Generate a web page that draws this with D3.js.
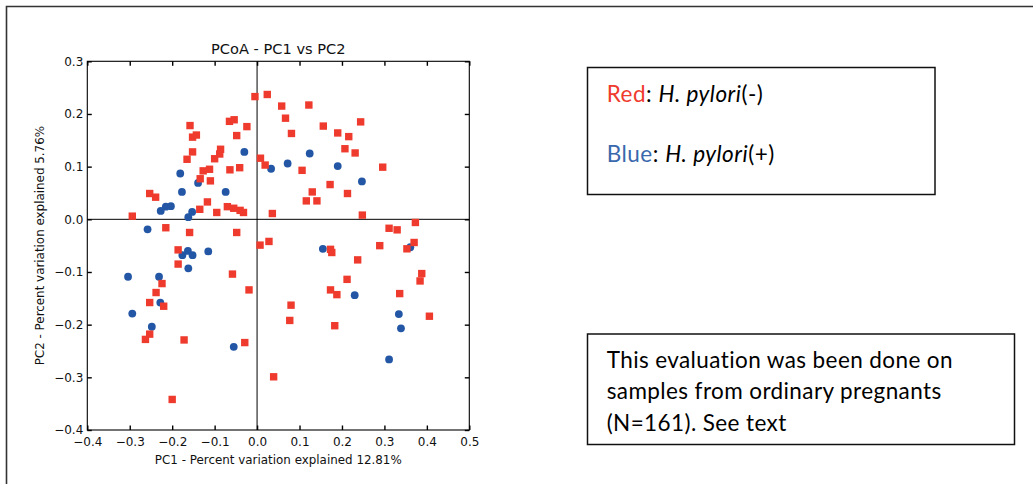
<!DOCTYPE html>
<html>
<head>
<meta charset="utf-8">
<script src="https://cdn.jsdelivr.net/npm/d3@7"></script>
<style>
  html, body { margin: 0; padding: 0; background: #fff; }
  svg { display: block; }
</style>
</head>
<body>
<svg id="chart" width="1033" height="484"></svg>
<script>
// ---- Data ----
const redX = [-0.005,0.024,0.058,0.067,0.081,0.122,0.156,0.190,0.216,0.244,0.207,0.231,0.296,0.106,0.172,0.213,0.130,0.116,0.141,0.248,0.036,0.008,0.019,-0.024,-0.048,-0.065,-0.054,-0.086,-0.088,-0.100,-0.064,-0.041,-0.158,-0.152,-0.143,-0.152,-0.165,-0.127,-0.112,-0.110,-0.134,-0.117,-0.135,-0.095,-0.070,-0.055,-0.032,-0.253,-0.239,-0.294,-0.215,-0.159,-0.048,-0.186,-0.186,-0.058,-0.019,-0.224,-0.238,-0.253,-0.220,-0.253,-0.263,-0.172,-0.029,-0.200,0.039,0.007,0.028,0.080,0.077,0.173,0.176,0.237,0.212,0.173,0.188,0.183,0.289,0.311,0.330,0.373,0.370,0.353,0.388,0.384,0.336,0.406,-0.040];
const redY = [0.233,0.237,0.215,0.192,0.163,0.217,0.177,0.164,0.157,0.185,0.134,0.126,0.099,0.093,0.066,0.049,0.052,0.035,0.035,0.008,0.011,0.116,0.103,0.176,0.159,0.186,0.189,0.133,0.124,0.115,0.094,0.098,0.178,0.156,0.160,0.128,0.114,0.092,0.095,0.073,0.077,0.033,0.019,0.013,0.024,0.021,0.013,0.049,0.042,0.006,-0.016,-0.025,-0.025,-0.058,-0.085,-0.104,-0.134,-0.122,-0.139,-0.158,-0.165,-0.218,-0.228,-0.229,-0.234,-0.342,-0.299,-0.049,-0.042,-0.163,-0.192,-0.057,-0.063,-0.077,-0.114,-0.134,-0.143,-0.202,-0.050,-0.017,-0.020,-0.006,-0.044,-0.056,-0.103,-0.117,-0.141,-0.184,0.017];
const blueX = [-0.030,0.033,0.072,0.124,0.190,0.247,-0.181,-0.177,-0.139,-0.074,-0.227,-0.215,-0.203,-0.153,-0.162,-0.258,-0.163,-0.176,-0.152,-0.162,-0.115,-0.304,-0.231,-0.294,-0.228,-0.248,-0.055,0.155,0.230,0.361,0.334,0.339,0.311];
const blueY = [0.128,0.096,0.106,0.125,0.101,0.072,0.087,0.052,0.069,0.052,0.016,0.024,0.025,0.014,0.004,-0.019,-0.060,-0.068,-0.068,-0.093,-0.061,-0.109,-0.109,-0.179,-0.158,-0.204,-0.242,-0.056,-0.144,-0.053,-0.180,-0.207,-0.266];
const xTicks = [-0.4,-0.3,-0.2,-0.1,0.0,0.1,0.2,0.3,0.4,0.5];
const yTicks = [-0.4,-0.3,-0.2,-0.1,0.0,0.1,0.2,0.3];
const titleText = "PCoA - PC1 vs PC2";
const xLabelText = "PC1 - Percent variation explained 12.81%";
const yLabelText = "PC2 - Percent variation explained 5.76%";
const noteLines = ["This evaluation was been done on", "samples from ordinary pregnants", "(N=161). See text"];

// ---- Layout ----
const svg = d3.select("#chart");
const L = 87.3, R = 469.3, T = 61.3, B = 430;
const x = d3.scaleLinear().domain([-0.4, 0.5]).range([L, R]);
const y = d3.scaleLinear().domain([-0.4, 0.3]).range([B, T]);
const RED = "#ef3b2e", BLUE = "#2357a6";
const fmt = d3.format(".1f");
const tickFont = "DejaVu Sans, sans-serif";

svg.append("rect").attr("width", 1033).attr("height", 484).attr("fill", "#fff");
// outer page frame
svg.append("path").attr("d", "M6.5,484V6.5H1033").attr("fill", "none")
  .attr("stroke", "#333").attr("stroke-width", 1.6);

// zero lines
svg.append("line").attr("x1", L).attr("x2", R).attr("y1", y(0)).attr("y2", y(0))
  .attr("stroke", "#000").attr("stroke-width", 1);
svg.append("line").attr("y1", T).attr("y2", B).attr("x1", x(0)).attr("x2", x(0))
  .attr("stroke", "#000").attr("stroke-width", 1);

// points
svg.append("g").selectAll("circle").data(blueX.map((v, i) => [v, blueY[i]])).join("circle")
  .attr("cx", d => x(d[0])).attr("cy", d => y(d[1])).attr("r", 3.9).attr("fill", BLUE);
const S = 7.4;
svg.append("g").selectAll("rect").data(redX.map((v, i) => [v, redY[i]])).join("rect")
  .attr("x", d => x(d[0]) - S / 2).attr("y", d => y(d[1]) - S / 2)
  .attr("width", S).attr("height", S).attr("fill", RED);

// axes (ticks inward on all four sides)
function styleAxis(g) {
  g.select(".domain").remove();
  g.selectAll(".tick line").attr("stroke", "#000").attr("stroke-width", 1.4);
  g.selectAll(".tick text").attr("font-family", tickFont).attr("font-size", 12).attr("fill", "#111");
}
svg.append("g").attr("transform", `translate(0,${B})`)
  .call(d3.axisBottom(x).tickValues(xTicks).tickFormat(fmt).tickSizeInner(-4.5).tickSizeOuter(0).tickPadding(7))
  .call(styleAxis);
svg.append("g").attr("transform", `translate(0,${T})`)
  .call(d3.axisTop(x).tickValues(xTicks).tickFormat("").tickSizeInner(-4.5).tickSizeOuter(0))
  .call(styleAxis);
svg.append("g").attr("transform", `translate(${L},0)`)
  .call(d3.axisLeft(y).tickValues(yTicks).tickFormat(fmt).tickSizeInner(-4.5).tickSizeOuter(0).tickPadding(4))
  .call(styleAxis);
svg.append("g").attr("transform", `translate(${R},0)`)
  .call(d3.axisRight(y).tickValues(yTicks).tickFormat("").tickSizeInner(-4.5).tickSizeOuter(0))
  .call(styleAxis);

// plot frame
svg.append("rect").attr("x", L).attr("y", T).attr("width", R - L).attr("height", B - T)
  .attr("fill", "none").attr("stroke", "#000").attr("stroke-width", 1.1);

// titles
svg.append("text").attr("x", (L + R) / 2).attr("y", 54).attr("text-anchor", "middle")
  .attr("font-family", tickFont).attr("font-size", 14.6).attr("fill", "#111").text(titleText);
svg.append("text").attr("x", (L + R) / 2).attr("y", 463.5).attr("text-anchor", "middle")
  .attr("font-family", tickFont).attr("font-size", 11.9).attr("fill", "#111").text(xLabelText);
svg.append("text").attr("transform", `translate(44,${(T + B) / 2}) rotate(-90)`).attr("text-anchor", "middle")
  .attr("font-family", tickFont).attr("font-size", 11.9).attr("fill", "#111").text(yLabelText);

// legend box
const boxFont = "Lato, 'Open Sans', sans-serif";
svg.append("rect").attr("x", 587.5).attr("y", 67.5).attr("width", 347.5).attr("height", 127)
  .attr("fill", "none").attr("stroke", "#111").attr("stroke-width", 1.5);
const legend = [
  { name: "Red", color: RED, sign: "(-)", yy: 101.7 },
  { name: "Blue", color: "#3a68ad", sign: "(+)", yy: 161.7 }
];
legend.forEach(l => {
  const t = svg.append("text").attr("x", 606.7).attr("y", l.yy)
    .attr("font-family", boxFont).attr("font-size", 22.5).attr("letter-spacing", 0.5).attr("fill", "#000");
  t.append("tspan").attr("fill", l.color).text(l.name);
  t.append("tspan").text(": ");
  t.append("tspan").attr("font-style", "italic").text("H. pylori");
  t.append("tspan").text(l.sign);
});

// note box
svg.append("rect").attr("x", 587.5).attr("y", 334).attr("width", 427).attr("height", 110.5)
  .attr("fill", "none").attr("stroke", "#111").attr("stroke-width", 1.5);
svg.append("g").selectAll("text").data(noteLines).join("text")
  .attr("x", 606.7).attr("y", (d, i) => 367.5 + i * 31.7)
  .attr("font-family", boxFont).attr("font-size", 22.5).attr("letter-spacing", 0.4).attr("fill", "#000").text(d => d);
</script>
</body>
</html>
